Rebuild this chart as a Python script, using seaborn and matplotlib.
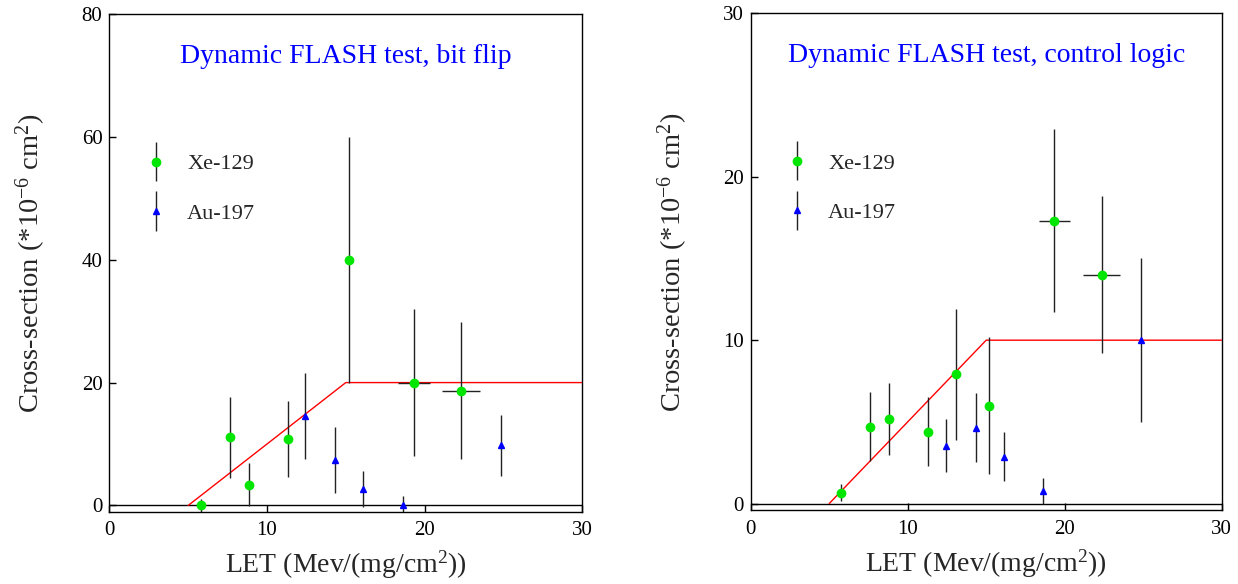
import numpy as np
import matplotlib
matplotlib.use("Agg")
import matplotlib.pyplot as plt
import seaborn as sns
from matplotlib.container import ErrorbarContainer
from matplotlib.legend_handler import HandlerErrorbar

# ---------------- data ----------------
# Left panel: bit flip
xe_bf_let = [5.82, 7.65, 8.83, 11.33, 15.2, 19.32, 22.33]
xe_bf_cs = [0.0, 11.1, 3.4, 10.8, 40.0, 20.0, 18.7]
xe_bf_err = [1.0, 6.6, 3.5, 6.2, 20.0, 12.0, 11.2]
xe_bf_xerr = [0, 0, 0, 0, 0, 1.0, 1.2]
au_bf_let = [12.43, 14.34, 16.12, 18.62, 24.83]
au_bf_cs = [14.5, 7.4, 2.7, 0.0, 9.8]
au_bf_err = [7.0, 5.4, 2.9, 1.5, 5.0]
fit_bf_x = [5.0, 15.0, 30.0]
fit_bf_y = [0.0, 20.0, 20.0]

# Right panel: control logic
xe_cl_let = [5.76, 7.57, 8.80, 11.30, 13.10, 15.21, 19.34, 22.36]
xe_cl_cs = [0.67, 4.7, 5.2, 4.4, 7.9, 6.0, 17.3, 14.0]
xe_cl_err = [0.5, 2.1, 2.2, 2.1, 4.0, 4.2, 5.6, 4.8]
xe_cl_xerr = [0, 0, 0, 0, 0, 0, 1.0, 1.18]
au_cl_let = [12.42, 14.33, 16.12, 18.63, 24.86]
au_cl_cs = [3.55, 4.65, 2.85, 0.77, 10.0]
au_cl_err = [1.6, 2.1, 1.5, 0.8, 5.0]
fit_cl_x = [5.0, 15.0, 30.0]
fit_cl_y = [0.0, 10.0, 10.0]

titles = ["Dynamic FLASH test, bit flip", "Dynamic FLASH test, control logic"]
series_names = ["Xe-129", "Au-197"]

# ---------------- style ----------------
sns.set_theme(style="ticks")
plt.rcParams["font.family"] = ["Liberation Serif", "DejaVu Serif"]
plt.rcParams["mathtext.fontset"] = "custom"
plt.rcParams["mathtext.rm"] = "Liberation Serif"
plt.rcParams["mathtext.it"] = "Liberation Serif:italic"
plt.rcParams["axes.linewidth"] = 1.0

GREEN = "#00e600"
BLUE = "#0000ff"
BAR = "#222222"

fig = plt.figure(figsize=(12.38, 5.84), dpi=100)
ax1 = fig.add_axes([0.0884, 0.124, 0.3818, 0.852])
ax2 = fig.add_axes([0.6064, 0.126, 0.3804, 0.851])

panels = [
    (ax1, xe_bf_let, xe_bf_cs, xe_bf_err, xe_bf_xerr, au_bf_let, au_bf_cs, au_bf_err,
     fit_bf_x, fit_bf_y, (-1.0, 80), [0, 20, 40, 60, 80], titles[0]),
    (ax2, xe_cl_let, xe_cl_cs, xe_cl_err, xe_cl_xerr, au_cl_let, au_cl_cs, au_cl_err,
     fit_cl_x, fit_cl_y, (-0.42, 30), [0, 10, 20, 30], titles[1]),
]

for (ax, xl, xc, xe, xx, al, ac, ae, fx, fy, ylim, yt, title) in panels:
    ax.axhline(0, color="black", lw=1.0, zorder=2)
    sns.lineplot(x=fx, y=fy, color="red", lw=1.0, ax=ax, zorder=3, legend=False)
    # horizontal (LET) error bars only where present
    hx = [x for x, e in zip(xl, xx) if e > 0]
    hy = [y for y, e in zip(xc, xx) if e > 0]
    he = [e for e in xx if e > 0]
    ax.errorbar(hx, hy, xerr=he, fmt="none", ecolor=BAR, elinewidth=1.0,
                capsize=0, zorder=3.5)
    h1 = ax.errorbar(xl, xc, yerr=xe, fmt="o", color=GREEN, ms=6, mec=GREEN,
                     ecolor=BAR, elinewidth=1.0, capsize=0, zorder=4,
                     label=series_names[0])
    h2 = ax.errorbar(al, ac, yerr=ae, fmt="^", color=BLUE, ms=5, mec=BLUE,
                     ecolor=BAR, elinewidth=1.0, capsize=0, zorder=4,
                     label=series_names[1])
    ax.set_xlim(0, 30)
    ax.set_ylim(*ylim)
    ax.set_xticks([0, 10, 20, 30])
    ax.set_yticks(yt)
    ax.tick_params(direction="in", length=5, width=1.0, labelsize=15,
                   top=False, right=False, colors="black")
    ax.tick_params(axis="x", pad=7)
    ax.tick_params(axis="y", pad=5)
    for s in ax.spines.values():
        s.set_visible(True)
        s.set_color("black")
        s.set_linewidth(1.0)
    ax.set_xlabel(r"LET (Mev/(mg/cm$^{2}$))", fontsize=20, labelpad=6)
    ax.set_ylabel(r"Cross-section (*10$^{-6}$ cm$^{2}$)", fontsize=20.5, labelpad=24)
    ax.text(0.5, 0.915, title, transform=ax.transAxes, ha="center", va="center",
            color=BLUE, fontsize=20)
    ax.legend(handles=[h1, h2], loc="upper left", bbox_to_anchor=(0.056, 0.737),
              frameon=False, fontsize=16, handlelength=1.0, handletextpad=0.9,
              labelspacing=1.3, borderaxespad=0.0,
              handler_map={ErrorbarContainer: HandlerErrorbar(yerr_size=0.88)})

fig.savefig("out.png", dpi=100)
